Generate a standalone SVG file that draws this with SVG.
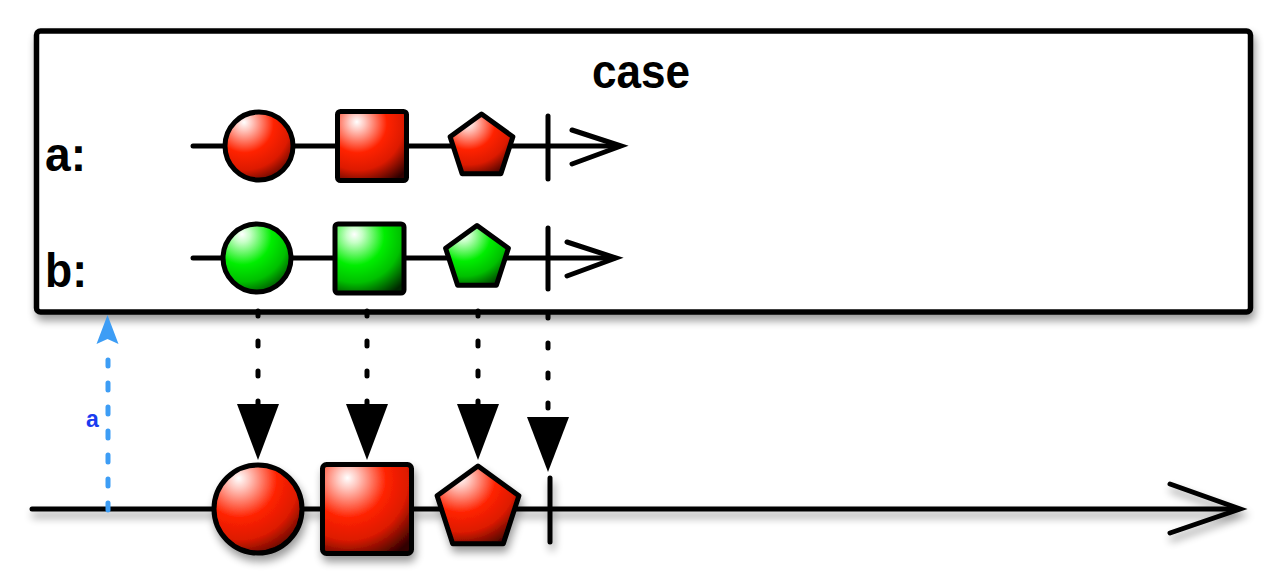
<svg xmlns="http://www.w3.org/2000/svg" width="1280" height="580" viewBox="0 0 1280 580">
<style>
.ln{stroke:#000;stroke-width:5;stroke-linecap:round;fill:none}
.sh{stroke:#000;stroke-width:5;stroke-linejoin:round}
.lbl{font-family:"Liberation Sans",Arial,sans-serif;font-weight:bold;fill:#000}
.dash{stroke:#000;stroke-width:5;stroke-linecap:round;stroke-dasharray:5 25;fill:none}
</style>
<defs>
<radialGradient id="red" cx="0.3" cy="0.2" r="0.95" fx="0.28" fy="0.15">
<stop offset="0" stop-color="#ffffff"/>
<stop offset="0.12" stop-color="#ffc8c0"/>
<stop offset="0.45" stop-color="#ff2200"/>
<stop offset="0.7" stop-color="#dd1a00"/>
<stop offset="1" stop-color="#300000"/>
</radialGradient>
<radialGradient id="green" cx="0.3" cy="0.2" r="0.95" fx="0.28" fy="0.15">
<stop offset="0" stop-color="#ffffff"/>
<stop offset="0.12" stop-color="#c8ffc8"/>
<stop offset="0.45" stop-color="#00ee00"/>
<stop offset="0.7" stop-color="#00c000"/>
<stop offset="1" stop-color="#002800"/>
</radialGradient>
<filter id="shadow" filterUnits="userSpaceOnUse" x="0" y="0" width="1280" height="580">
<feGaussianBlur in="SourceAlpha" stdDeviation="4"/>
<feOffset dx="2" dy="6"/>
<feComponentTransfer><feFuncA type="linear" slope="0.4"/></feComponentTransfer>
<feMerge><feMergeNode/><feMergeNode in="SourceGraphic"/></feMerge>
</filter>
</defs>
<rect width="1280" height="580" fill="#fff"/>

<g id="case-box">
<rect x="36.5" y="31" width="1214" height="281" rx="4" fill="#fff" stroke="#000" stroke-width="5.5" filter="url(#shadow)"/>
<text class="lbl" x="641" y="88" font-size="49" text-anchor="middle" textLength="98" lengthAdjust="spacingAndGlyphs">case</text>
</g>

<g id="stream-a">
<text class="lbl" x="45" y="171" font-size="49" textLength="41" lengthAdjust="spacingAndGlyphs">a:</text>
<line class="ln" x1="193" y1="146" x2="619" y2="146"/>
<polyline class="ln" points="572,130 621,146 572,164" stroke-linejoin="miter"/>
<circle cx="259" cy="146" r="34" fill="url(#red)" class="sh"/>
<rect x="337.5" y="111.5" width="69" height="69" rx="3" fill="url(#red)" class="sh"/>
<polygon points="481.5,114 512.9,136.8 500.9,173.7 462.1,173.7 450.1,136.8" fill="url(#red)" class="sh"/>
<line class="ln" x1="548" y1="116" x2="548" y2="179"/>
</g>

<g id="stream-b">
<text class="lbl" x="45" y="287" font-size="49" textLength="42" lengthAdjust="spacingAndGlyphs">b:</text>
<line class="ln" x1="193" y1="258" x2="614" y2="258"/>
<polyline class="ln" points="567,242 616,258 567,276" stroke-linejoin="miter"/>
<circle cx="257" cy="258" r="34" fill="url(#green)" class="sh"/>
<rect x="335" y="224" width="69" height="69" rx="3" fill="url(#green)" class="sh"/>
<polygon points="477,225.5 508.4,248.3 496.4,285.2 457.6,285.2 445.6,248.3" fill="url(#green)" class="sh"/>
<line class="ln" x1="548" y1="228" x2="548" y2="289"/>
</g>

<g id="output-stream" filter="url(#shadow)">
<line class="ln" x1="32" y1="509" x2="1238" y2="509"/>
<polyline class="ln" points="1170,484 1240,509 1170,533" stroke-width="5.5" stroke-linejoin="miter"/>
<circle cx="258" cy="509" r="44" fill="url(#red)" class="sh"/>
<rect x="322.5" y="464.5" width="89" height="89" rx="4" fill="url(#red)" class="sh"/>
<polygon points="478,466 518.9,495.7 503.3,543.8 452.7,543.8 437.1,495.7" fill="url(#red)" class="sh"/>
<line class="ln" x1="550" y1="478" x2="550" y2="542"/>
</g>

<g id="connectors">
<line class="dash" x1="258" y1="311" x2="258" y2="404"/>
<polygon points="237,404 279,404 258,460" fill="#000"/>
<line class="dash" x1="367" y1="311" x2="367" y2="404"/>
<polygon points="346,404 388,404 367,460" fill="#000"/>
<line class="dash" x1="478" y1="311" x2="478" y2="404"/>
<polygon points="457,404 499,404 478,460" fill="#000"/>
<line class="dash" x1="548" y1="313" x2="548" y2="416"/>
<polygon points="527,417 569,417 548,472" fill="#000"/>
<line x1="108" y1="510" x2="108" y2="360" stroke="#3d9df5" stroke-width="5" stroke-linecap="round" stroke-dasharray="7 17" fill="none"/>
<path d="M107.5,315 L118.5,344 L107.5,339 L96.5,344 Z" fill="#3d9df5"/>
<text class="lbl" x="92.5" y="427" font-size="23" text-anchor="middle" style="fill:#1a3cf0">a</text>
</g>
</svg>
